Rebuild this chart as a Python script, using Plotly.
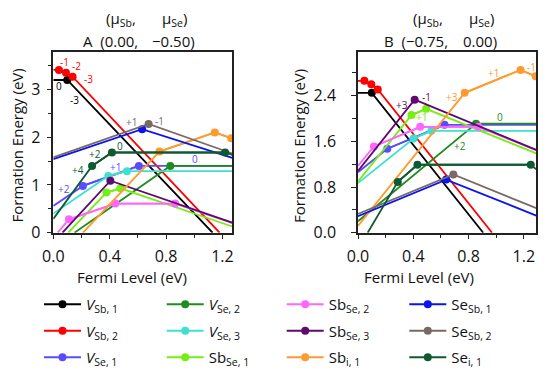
import plotly.graph_objects as go

# ---------------- data ----------------
defect_names = [
    "<i>V</i><sub>Sb, 1</sub>", "<i>V</i><sub>Sb, 2</sub>", "<i>V</i><sub>Se, 1</sub>",
    "<i>V</i><sub>Se, 2</sub>", "<i>V</i><sub>Se, 3</sub>", "Sb<sub>Se, 1</sub>",
    "Sb<sub>Se, 2</sub>", "Sb<sub>Se, 3</sub>", "Sb<sub>i, 1</sub>",
    "Se<sub>Sb, 1</sub>", "Se<sub>Sb, 2</sub>", "Se<sub>i, 1</sub>",
]
defect_colors = [
    "#000000", "#FF0000", "#5B4BFF",
    "#1E8C1E", "#40E0D0", "#77EE11",
    "#FF66FF", "#5E0A6E", "#FF9A2E",
    "#0A14F0", "#7A6A66", "#0F5A32",
]

# Panel A: (mu_Sb, mu_Se) = (0.00, -0.50); Fermi level (eV) and formation energy (eV)
A_fermi = [
    [0, 0.099, 1.13],
    [0, 0.04, 0.09, 0.137, 1.18],
    [0, 0.21, 0.607, 1.27],
    [0.15, 0.83, 1.27],
    [0, 0.39, 0.523, 1.27],
    [0.106, 0.377, 0.476, 1.27],
    [0.031, 0.111, 0.44, 0.864, 1.27],
    [0.065, 0.405, 1.27],
    [0.21, 0.753, 1.146, 1.262, 1.27],
    [0, 0.63, 1.27],
    [0, 0.676, 1.27],
    [0, 0.275, 0.416, 1.219, 1.27],
]
A_energy = [
    [3.20, 3.20, 0],
    [3.41, 3.41, 3.35, 3.27, 0],
    [0.56, 0.98, 1.40, 1.40],
    [0, 1.40, 1.40],
    [0.40, 1.19, 1.29, 1.29],
    [0, 0.84, 0.93, 0.13],
    [0, 0.28, 0.61, 0.61, 0.20],
    [0, 1.09, 0.21],
    [0, 1.70, 2.10, 1.98, 1.97],
    [1.54, 2.17, 1.57],
    [1.58, 2.28, 1.66],
    [0.29, 1.40, 1.68, 1.68, 1.63],
]

# Panel B: (mu_Sb, mu_Se) = (-0.75, 0.00)
B_fermi = [
    [0, 0.10, 0.906],
    [0, 0.046, 0.096, 0.143, 0.97],
    [0, 0.212, 0.626, 1.29],
    [0, 0.854, 1.29],
    [0, 0.402, 0.531, 1.29],
    [0, 0.387, 0.493, 1.29],
    [0, 0.115, 0.45, 0.872, 1.29],
    [0, 0.41, 1.29],
    [0, 0.772, 1.176, 1.285, 1.29],
    [0, 0.638, 1.29],
    [0, 0.69, 1.29],
    [0.07, 0.288, 0.43, 1.25, 1.29],
]
B_energy = [
    [2.45, 2.45, 0],
    [2.66, 2.66, 2.60, 2.51, 0],
    [1.06, 1.47, 1.89, 1.89],
    [0.20, 1.91, 1.91],
    [0.87, 1.65, 1.785, 1.785],
    [0.90, 2.06, 2.17, 1.39],
    [1.17, 1.51, 1.855, 1.855, 1.44],
    [1.08, 2.33, 1.45],
    [0.12, 2.45, 2.85, 2.74, 2.735],
    [0.29, 0.93, 0.30],
    [0.33, 1.02, 0.43],
    [0, 0.89, 1.19, 1.19, 1.11],
]

# charge-state labels: (text, defect index, fermi, energy)
A_label_text = ["-1", "-2", "-3", "0", "-3", "+1", "-1", "+4", "+2", "0", "+2", "+1", "0"]
A_label_defect = [1, 1, 1, 0, 0, 10, 10, 11, 11, 11, 2, 2, 2]
A_label_fermi = [0.076, 0.165, 0.247, 0.040, 0.153, 0.557, 0.753, 0.176, 0.299, 0.476, 0.076, 0.44, 1.005]
A_label_energy = [3.585, 3.50, 3.216, 3.075, 2.78, 2.315, 2.348, 1.315, 1.65, 1.818, 0.91, 1.384, 1.539]

B_label_text = ["+3", "-1", "+1", "+3", "+1", "-1", "0", "+2"]
B_label_defect = [7, 7, 5, 8, 8, 8, 3, 3]
B_label_fermi = [0.317, 0.498, 0.462, 0.679, 0.978, 1.254, 1.027, 0.739]
B_label_energy = [2.236, 2.382, 2.032, 2.382, 2.792, 2.897, 2.032, 1.518]

A_xrange = [0, 1.27]
A_yrange = [0, 3.78]
B_xrange = [0, 1.29]
B_yrange = [0, 3.16]

FONT = "Open Sans"
OFF = 8               # page body margin: the figure sits 8 px in from the window edge
W, H = 554 - OFF, 381 - OFF

fig = go.Figure()

legend_keys = ["legend", "legend2", "legend3", "legend4"]

for panel, (fx, fe, xa, ya) in enumerate([(A_fermi, A_energy, "x", "y"), (B_fermi, B_energy, "x2", "y2")]):
    for d in range(len(defect_names)):
        col = defect_colors[d]
        fig.add_trace(go.Scatter(
            x=fx[d], y=fe[d], mode="lines", xaxis=xa, yaxis=ya,
            line=dict(color=col, width=1.8), showlegend=False, hoverinfo="skip",
        ))
        fig.add_trace(go.Scatter(
            x=fx[d][1:-1], y=fe[d][1:-1], mode="lines+markers", xaxis=xa, yaxis=ya,
            line=dict(color=col, width=1.8), marker=dict(color=col, size=8),
            name=defect_names[d], legendgroup="g%d" % d,
            showlegend=(panel == 0), legend=legend_keys[d // 3],
        ))

annotations = []
for txt, d, xv, yv in zip(A_label_text, A_label_defect, A_label_fermi, A_label_energy):
    annotations.append(dict(text=txt, x=xv, y=yv, xref="x", yref="y", showarrow=False,
                            font=dict(size=10, color=defect_colors[d], family=FONT)))
for txt, d, xv, yv in zip(B_label_text, B_label_defect, B_label_fermi, B_label_energy):
    annotations.append(dict(text=txt, x=xv, y=yv, xref="x2", yref="y2", showarrow=False,
                            font=dict(size=10, color=defect_colors[d], family=FONT)))

def pap(px, py):
    return (px - OFF) / W, 1 - (py - OFF) / H

def add_text(txt, px, py, size=15, angle=0):
    x, y = pap(px, py)
    annotations.append(dict(text=txt, x=x, y=y, xref="paper", yref="paper", showarrow=False,
                            textangle=angle, xanchor="center", yanchor="middle",
                            font=dict(size=size, color="#111", family=FONT)))

# chemical potential headers (positions in window pixels)
add_text("(μ<sub>Sb</sub>,", 121, 19)
add_text("μ<sub>Se</sub>)", 174, 19)
add_text("A  (0.00,", 110, 41)
add_text("−0.50)", 173, 41)
add_text("(μ<sub>Sb</sub>,", 428, 19)
add_text("μ<sub>Se</sub>)", 481, 19)
add_text("B  (−0.75,", 416, 41)
add_text("0.00)", 479.5, 41)
# axis titles
add_text("Fermi Level (eV)", 132, 277)
add_text("Fermi Level (eV)", 419, 277)
add_text("Formation Energy (eV)", 16.5, 146, angle=-90)
add_text("Formation Energy (eV)", 299, 146, angle=-90)

ydom = [1 - (232.7 - OFF) / H, 1 - (52.3 - OFF) / H]
axis_common = dict(showline=True, linecolor="#222", linewidth=1.5, mirror=True,
                   ticks="outside", ticklen=5, tickwidth=1.2, tickcolor="#222",
                   showgrid=False, zeroline=False, automargin=False,
                   tickfont=dict(size=16, color="#111", family=FONT))

layout = dict(
    width=W, height=H, margin=dict(l=0, r=0, t=0, b=0, autoexpand=False),
    paper_bgcolor="white", plot_bgcolor="white",
    font=dict(family=FONT),
    xaxis=dict(domain=[(53.3 - OFF) / W, (232.3 - OFF) / W], range=A_xrange, dtick=0.4, tick0=0,
               tickformat=".1f", ticklabelstandoff=3,
               minor=dict(dtick=0.2, ticks="outside", ticklen=4, tickcolor="#222"),
               anchor="y", **axis_common),
    yaxis=dict(domain=ydom, range=A_yrange, dtick=1, tick0=0, ticklabelstandoff=3,
               minor=dict(dtick=0.5, ticks="outside", ticklen=4, tickcolor="#222"),
               anchor="x", **axis_common),
    xaxis2=dict(domain=[(358 - OFF) / W, (536.3 - OFF) / W], range=B_xrange, dtick=0.4, tick0=0,
                tickformat=".1f", ticklabelstandoff=3,
                minor=dict(dtick=0.2, ticks="outside", ticklen=4, tickcolor="#222"),
                anchor="y2", **axis_common),
    yaxis2=dict(domain=ydom, range=B_yrange, dtick=0.8, tick0=0, tickformat=".1f",
                ticklabelstandoff=12,
                minor=dict(dtick=0.4, ticks="outside", ticklen=4, tickcolor="#222"),
                anchor="x2", **axis_common),
    annotations=annotations,
    showlegend=True,
)

legend_px = [39, 161.7, 281.7, 404.3]
for i, key in enumerate(legend_keys):
    layout[key] = dict(xref="container", yref="container", x=(legend_px[i] - OFF) / W,
                       y=1 - (288 - OFF) / H, xanchor="left", yanchor="top",
                       orientation="v", tracegroupgap=4, itemwidth=37,
                       bgcolor="rgba(0,0,0,0)", borderwidth=0,
                       font=dict(size=15, color="#111", family=FONT))

fig.update_layout(**layout)
fig.write_html("out.html")
